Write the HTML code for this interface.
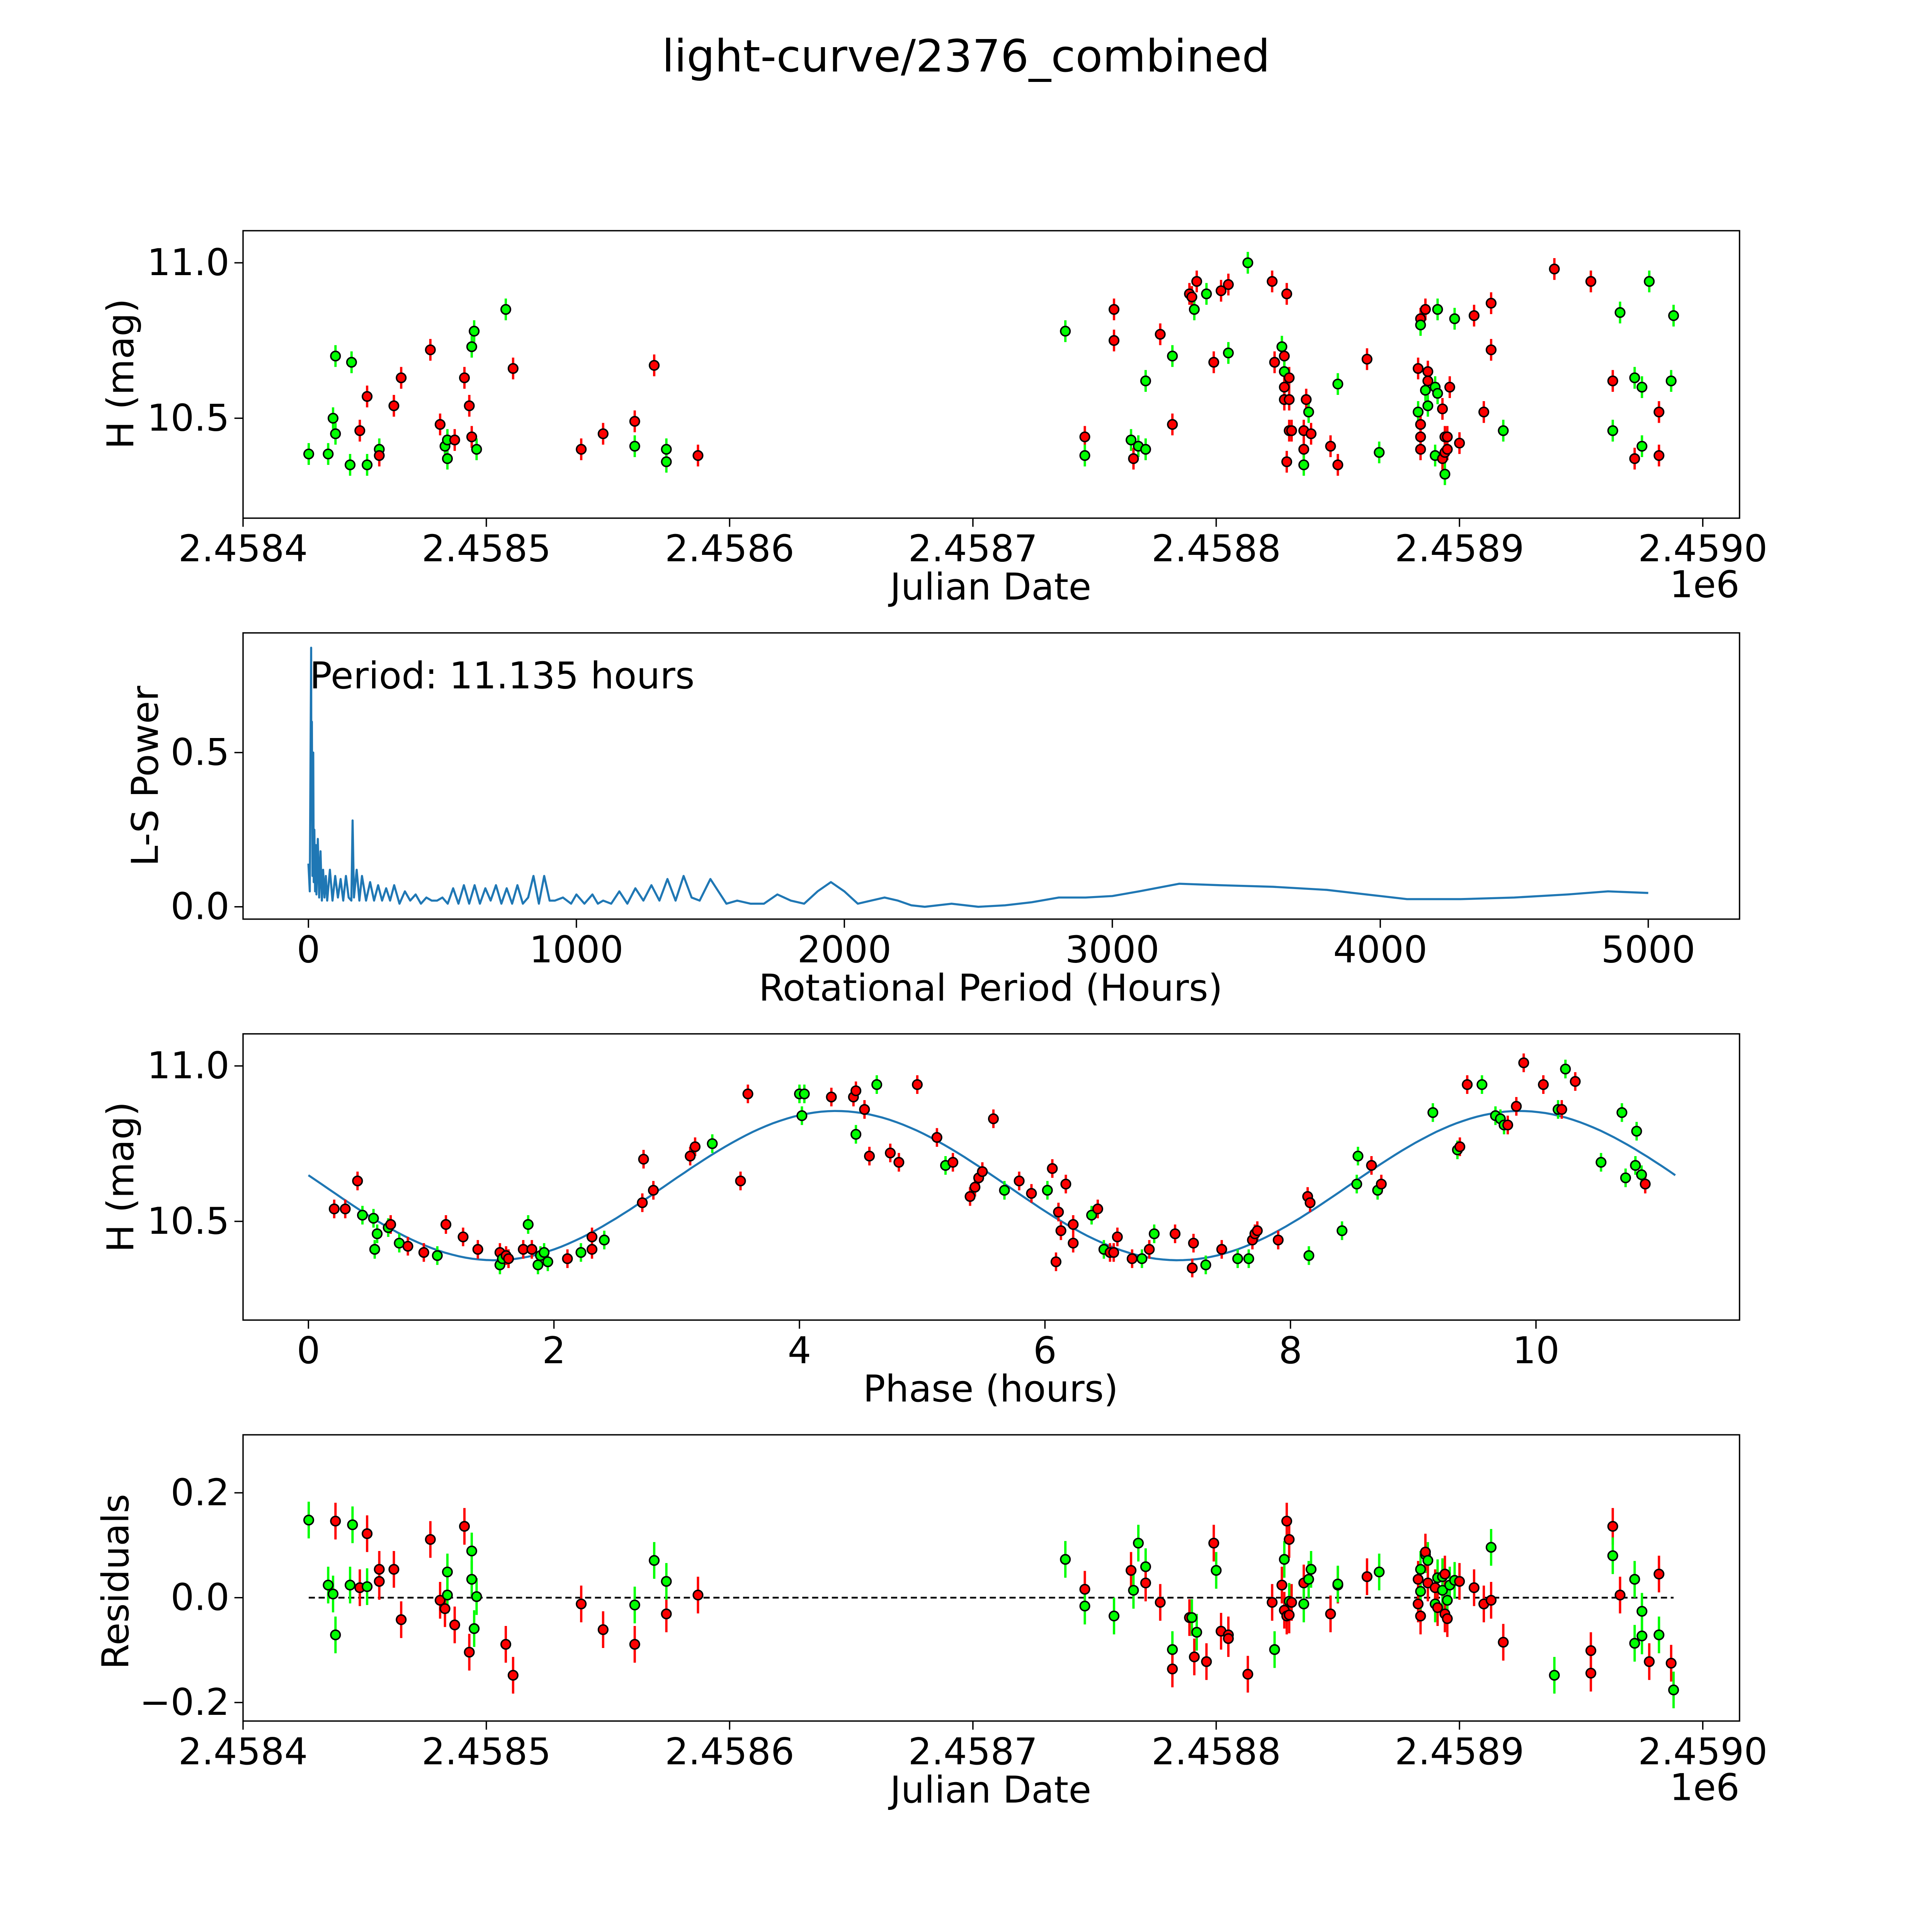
<!DOCTYPE html>
<html><head><meta charset="utf-8"><style>
html,body{margin:0;padding:0;background:#fff;overflow:hidden;width:100%;height:100%}
svg{display:block;position:fixed;left:0;top:0;width:100vw;height:100vh;font-family:"DejaVu Sans","Liberation Sans",sans-serif}
</style></head><body>
<svg id="fig" viewBox="0 0 1566 1566" preserveAspectRatio="none" xmlns="http://www.w3.org/2000/svg">
<rect width="1566" height="1566" fill="#fff"/>
<text x="783" y="58" font-size="36" text-anchor="middle">light-curve/2376_combined</text>
<g id="g1"></g>
<g id="g2"></g>
<g id="g3"></g>
<g id="g4"></g>
</svg>
<script>
// ---- Panel 1 data: days after JD 2458400, H mag, colour (r/g)
const t1=[27,35,37,38,38,44,44.6,48,51,51,56,56,62,65,77,81,83,84,84,87,91,93,94,94,95,96,108,111,139,148,161,161,169,174,174,187,
338,346,346,358,358,365,366,368,371,371,377,382,382,389,390,391,392,396,399,402,405,405,413,423,424,427,428,428,428,428,429,429,430,430,430,431,436,436,436,437,438,439,447,450,450,462,467,
484,484,483,483,484,484,484,486,486,487,487,487,490,490,491,491,493,493,494,494,494,495,495,496,498,500,506,510,513,513,518,539,554,554,563,563,566,572,572,575,575,578,582,582,587,588];
const m1=[10.385,10.385,10.50,10.45,10.70,10.35,10.68,10.46,10.35,10.57,10.40,10.38,10.54,10.63,10.72,10.48,10.41,10.37,10.43,10.43,10.63,10.54,10.44,10.73,10.78,10.40,10.85,10.66,10.40,10.45,10.49,10.41,10.67,10.40,10.36,10.38,
10.78,10.44,10.38,10.75,10.85,10.43,10.37,10.41,10.40,10.62,10.77,10.48,10.70,10.90,10.89,10.85,10.94,10.90,10.68,10.91,10.71,10.93,11.00,10.94,10.68,10.73,10.70,10.65,10.60,10.56,10.36,10.90,10.63,10.56,10.46,10.46,10.46,10.40,10.35,10.56,10.52,10.45,10.41,10.35,10.61,10.69,10.39,
10.82,10.80,10.66,10.52,10.48,10.44,10.40,10.85,10.59,10.65,10.54,10.62,10.38,10.60,10.58,10.85,10.53,10.37,10.39,10.44,10.32,10.40,10.44,10.60,10.82,10.42,10.83,10.52,10.87,10.72,10.46,10.98,10.94,10.94,10.46,10.62,10.84,10.37,10.63,10.41,10.60,10.94,10.38,10.52,10.62,10.83];
const c1="gggggggrgrgrrrrrgggrrrrggggrrrrgrggrgrgrrgrgggrrgrrgrgrrgrgrrgrgrrrrrrrrrrgrgrrrgrgrgrgrrrrgrgrggggrrrrgrrrgrrrrrgrgrgrgrggggrrggrrgr";
const err1=0.035;
// ---- Panel 2 data: L-S periodogram
const periods=[0,5,10,11,13,15,18,20,22,25,28,30,35,40,45,50,55,60,65,70,80,90,100,110,120,130,140,150,160,165,170,180,190,200,215,230,245,260,275,290,305,320,340,360,380,400,420,440,460,480,500,520,540,560,580,600,620,640,660,680,700,720,740,760,780,800,820,840,860,880,900,920,950,980,1000,1030,1060,1080,1100,1130,1160,1190,1220,1250,1280,1310,1340,1370,1400,1430,1460,1500,1530,1560,1600,1650,1700,1750,1800,1850,1900,1950,2000,2050,2100,2150,2200,2250,2300,2400,2500,2600,2700,2800,2900,3000,3100,3250,3400,3600,3800,4000,4100,4300,4500,4700,4850,5000];
const power=[0.14,0.05,0.84,0.3,0.6,0.1,0.5,0.08,0.25,0.05,0.2,0.04,0.22,0.03,0.18,0.02,0.12,0.03,0.1,0.02,0.12,0.02,0.1,0.03,0.09,0.02,0.1,0.03,0.02,0.28,0.03,0.12,0.02,0.1,0.02,0.08,0.02,0.07,0.02,0.06,0.02,0.07,0.01,0.05,0.02,0.04,0.01,0.03,0.02,0.02,0.03,0.01,0.06,0.01,0.07,0.01,0.07,0.01,0.06,0.02,0.07,0.01,0.06,0.01,0.07,0.01,0.03,0.1,0.01,0.1,0.02,0.02,0.03,0.01,0.04,0.01,0.04,0.01,0.02,0.01,0.05,0.01,0.06,0.02,0.07,0.02,0.09,0.02,0.1,0.03,0.02,0.09,0.05,0.01,0.02,0.01,0.01,0.04,0.02,0.01,0.05,0.08,0.05,0.01,0.02,0.03,0.02,0.005,0.0,0.01,0.0,0.005,0.015,0.03,0.03,0.035,0.05,0.075,0.07,0.065,0.055,0.035,0.025,0.025,0.03,0.04,0.05,0.045];
const periodLabel="Period: 11.135 hours";
// ---- Panel 3 data: phase (hours), mag, colour
const ph3=[0.21,0.30,0.40,0.44,0.53,0.56,0.54,0.65,0.67,0.74,0.81,0.94,1.05,1.12,1.26,1.38,1.56,1.56,1.58,1.61,1.63,1.75,1.79,1.82,1.87,1.89,1.92,1.95,2.11,2.22,2.31,2.31,2.41,2.72,2.73,2.81,3.11,3.15,3.29,3.52,3.58,4.00,4.04,4.02,4.26,4.44,4.46,4.46,4.53,4.57,4.63,4.74,4.81,4.96,5.12,5.19,5.25,5.39,5.43,5.46,5.49,5.58,5.67,5.79,5.89,6.02,6.06,6.11,6.09,6.13,6.17,6.23,6.23,6.38,6.43,6.48,6.53,6.56,6.59,6.71,6.79,6.85,6.89,7.06,7.21,7.20,7.31,7.44,7.57,7.66,7.69,7.71,7.73,7.90,8.15,8.14,8.16,8.42,8.54,8.55,8.66,8.71,8.74,9.16,9.36,9.38,9.44,9.56,9.67,9.71,9.74,9.77,9.84,9.90,10.06,10.18,10.21,10.24,10.32,10.53,10.70,10.73,10.82,10.81,10.86,10.89];
const m3=[10.54,10.54,10.63,10.52,10.51,10.46,10.41,10.48,10.49,10.43,10.42,10.40,10.39,10.49,10.45,10.41,10.40,10.36,10.38,10.39,10.38,10.41,10.49,10.41,10.36,10.39,10.40,10.37,10.38,10.40,10.41,10.45,10.44,10.56,10.70,10.60,10.71,10.74,10.75,10.63,10.91,10.91,10.91,10.84,10.90,10.90,10.78,10.92,10.86,10.71,10.94,10.72,10.69,10.94,10.77,10.68,10.69,10.58,10.61,10.64,10.66,10.83,10.60,10.63,10.59,10.60,10.67,10.53,10.37,10.47,10.62,10.43,10.49,10.52,10.54,10.41,10.40,10.40,10.45,10.38,10.38,10.41,10.46,10.46,10.43,10.35,10.36,10.41,10.38,10.38,10.44,10.46,10.47,10.44,10.39,10.58,10.56,10.47,10.62,10.71,10.68,10.60,10.62,10.85,10.73,10.74,10.94,10.94,10.84,10.83,10.81,10.81,10.87,11.01,10.94,10.86,10.86,10.99,10.95,10.69,10.85,10.64,10.79,10.68,10.65,10.62];
const c3="rrrgggggrgrrgrrrrggrrrgrggggrgrrgrrrrrgrrgggrrgrrrgrrrrgrrrrrrgrrgrrrrrrrgrgrrrrgrgrrrgrggrrrrgrrgggrgrggrrggggrrrrgrgrgggggg";
// model fit parameters (sinusoid at half period)
const fitMean=10.615, fitAmp=0.24, fitPeak=4.3, fitPeriod=11.135;
// ---- Panel 4 data: residuals
const t4=[27,35,37,38,38,44,45,48,51,51,56,56,62,65,77,81,83,84,84,87,91,93,94,94,95,96,108,111,139,148,161,161,169,174,174,187,
338,346,346,358,365,366,368,371,371,377,382,382,389,390,391,392,396,399,400,402,405,405,413,424,423,427,428,428,429,429,430,430,430,431,436,436,438,439,447,450,450,462,467,
483,483,484,484,484,486,486,487,487,490,490,491,491,493,493,494,494,495,495,496,498,500,506,510,513,513,518,539,554,554,563,563,566,572,572,575,575,578,582,582,587,588];
const r4=[0.148,0.024,0.007,0.146,-0.071,0.024,0.139,0.019,0.021,0.122,0.031,0.054,0.054,-0.042,0.111,-0.005,-0.021,0.005,0.049,-0.052,0.136,-0.104,0.035,0.089,-0.059,0.002,-0.089,-0.148,-0.012,-0.061,-0.089,-0.014,0.071,-0.031,0.031,0.005,
0.073,0.016,-0.016,-0.035,0.052,0.014,0.104,0.059,0.028,-0.009,-0.099,-0.136,-0.038,-0.038,-0.113,-0.066,-0.122,0.104,0.052,-0.064,-0.071,-0.078,-0.146,-0.099,-0.009,0.024,0.073,-0.024,0.146,-0.035,0.111,-0.007,-0.033,-0.009,0.028,-0.012,0.035,0.054,-0.031,0.024,0.026,0.040,0.049,
0.035,-0.012,-0.035,0.054,0.012,0.082,0.087,0.071,0.028,-0.012,0.019,0.038,-0.019,0.014,0.040,0.045,-0.031,-0.040,-0.005,0.024,0.033,0.031,0.019,-0.012,-0.005,0.096,-0.085,-0.148,-0.144,-0.101,0.136,0.080,0.005,0.035,-0.087,-0.073,-0.026,-0.122,0.045,-0.071,-0.125,-0.176];
const c4="gggrgggrgrrrrrrrrggrrrggggrrrrrggrgr"+"grggrgggrrgrrgrgrrgrrrrgrrgrrrrgrrrgggrrgrg"+"rrrgggrgrgrgrggrrrgggrrrrgrgrrrgrggggrrgrgrgrr";
const err4=0.035;

const ns="http://www.w3.org/2000/svg";
function mk(tag,attrs,parent){const e=document.createElementNS(ns,tag);for(const k in attrs)e.setAttribute(k,attrs[k]);parent.appendChild(e);return e;}
function txt(s,attrs,parent){const e=mk('text',attrs,parent);e.textContent=s;return e;}
const L=197,R=1410,RED="#ff0000",GRN="#00ff00",FS=30;
function axisFrame(g,top,bot){const f=mk('rect',{x:L,y:top,width:R-L,height:bot-top,fill:'none',stroke:'#000','stroke-width':1.1},g);}
function xticks(g,bot,vals,labs,sx){vals.forEach((v,i)=>{const x=sx(v);mk('line',{x1:x,x2:x,y1:bot,y2:bot+7,stroke:'#000','stroke-width':1.1},g);const t=txt(labs[i],{x:x,y:bot+35,'font-size':FS,'text-anchor':'middle'},g);});}
function yticks(g,vals,labs,sy){vals.forEach((v,i)=>{const y=sy(v);mk('line',{x1:L-7,x2:L,y1:y,y2:y,stroke:'#000','stroke-width':1.1},g);const t=txt(labs[i],{x:L-11,y:y+10,'font-size':FS,'text-anchor':'end'},g);});}
function xlabel(g,s,y){const t=txt(s,{x:803,y:y,'font-size':FS,'text-anchor':'middle'},g);}
function ylabel(g,s,x,y){const t=txt(s,{x:x,y:y,'font-size':FS,'text-anchor':'middle',transform:`rotate(-90 ${x} ${y})`},g);}
function points(g,xs,ys,cs,err,sx,sy){xs.forEach((xv,i)=>{const col=cs[i]==='g'?GRN:RED;const x=sx(xv);const l=mk('line',{x1:x,x2:x,y1:sy(ys[i]-err),y2:sy(ys[i]+err),stroke:col,'stroke-width':1.9},g);});
 xs.forEach((xv,i)=>{const col=cs[i]==='g'?GRN:RED;const c=mk('circle',{cx:sx(xv),cy:sy(ys[i]),r:3.8,fill:col,stroke:'#000','stroke-width':1.2},g);});}

// Panel 1
(function(){const g=document.getElementById('g1');const top=187,bot=420;
 const sx=d=>L+(d)*1.972, sy=m=>213+(11-m)*252;
 axisFrame(g,top,bot);
 points(g,t1,m1,c1,err1,sx,sy);
 xticks(g,bot,[0,100,200,300,400,500,600],["2.4584","2.4585","2.4586","2.4587","2.4588","2.4589","2.4590"],sx);
 yticks(g,[11.0,10.5],["11.0","10.5"],sy);
 xlabel(g,"Julian Date",486);ylabel(g,"H (mag)",108,303);
 const o=txt("1e6",{x:1410,y:484,'font-size':FS,'text-anchor':'end'},g);
})();
// Panel 2
(function(){const g=document.getElementById('g2');const top=513,bot=745;
 const sx=p=>250+p*0.2172, sy=v=>735-v*250;
 axisFrame(g,top,bot);
 const d=periods.map((p,i)=>(i?'L':'M')+sx(p).toFixed(1)+','+sy(power[i]).toFixed(1)).join('');
 const pl=mk('path',{d:d,fill:'none',stroke:'#1f77b4','stroke-width':1.7,'stroke-linejoin':'round'},g);
 
 xticks(g,bot,[0,1000,2000,3000,4000,5000],["0","1000","2000","3000","4000","5000"],sx);
 yticks(g,[0,0.5],["0.0","0.5"],sy);
 const t=txt(periodLabel,{x:251,y:558,'font-size':FS},g);
 xlabel(g,"Rotational Period (Hours)",811);ylabel(g,"L-S Power",128,629);
})();
// Panel 3
(function(){const g=document.getElementById('g3');const top=838,bot=1070;
 const sx=p=>250+p*99.5, sy=m=>864+(11-m)*252;
 axisFrame(g,top,bot);
 let d='';const N=200;for(let i=0;i<=N;i++){const p=fitPeriod*i/N;const m=fitMean+fitAmp*Math.cos(4*Math.PI*(p-fitPeak)/fitPeriod);d+=(i?'L':'M')+sx(p).toFixed(1)+','+sy(m).toFixed(1);}
 const pl=mk('path',{d:d,fill:'none',stroke:'#1f77b4','stroke-width':1.7},g);
 points(g,ph3,m3,c3,0.03,sx,sy);
 xticks(g,bot,[0,2,4,6,8,10],["0","2","4","6","8","10"],sx);
 yticks(g,[11.0,10.5],["11.0","10.5"],sy);
 xlabel(g,"Phase (hours)",1136);ylabel(g,"H (mag)",108,954);
})();
// Panel 4
(function(){const g=document.getElementById('g4');const top=1163,bot=1395;
 const sx=d=>L+d*1.972, sy=v=>1295-v*425;
 axisFrame(g,top,bot);
 const z=mk('line',{x1:sx(27),x2:sx(588),y1:sy(0),y2:sy(0),stroke:'#000','stroke-width':1.4,'stroke-dasharray':'5,3'},g);
 points(g,t4,r4,c4,err4,sx,sy);
 xticks(g,bot,[0,100,200,300,400,500,600],["2.4584","2.4585","2.4586","2.4587","2.4588","2.4589","2.4590"],sx);
 yticks(g,[0.2,0,-0.2],["0.2","0.0","\u22120.2"],sy);
 xlabel(g,"Julian Date",1461);ylabel(g,"Residuals",104,1282);
 const o=txt("1e6",{x:1410,y:1459,'font-size':FS,'text-anchor':'end'},g);
})();
</script>
</body></html>
